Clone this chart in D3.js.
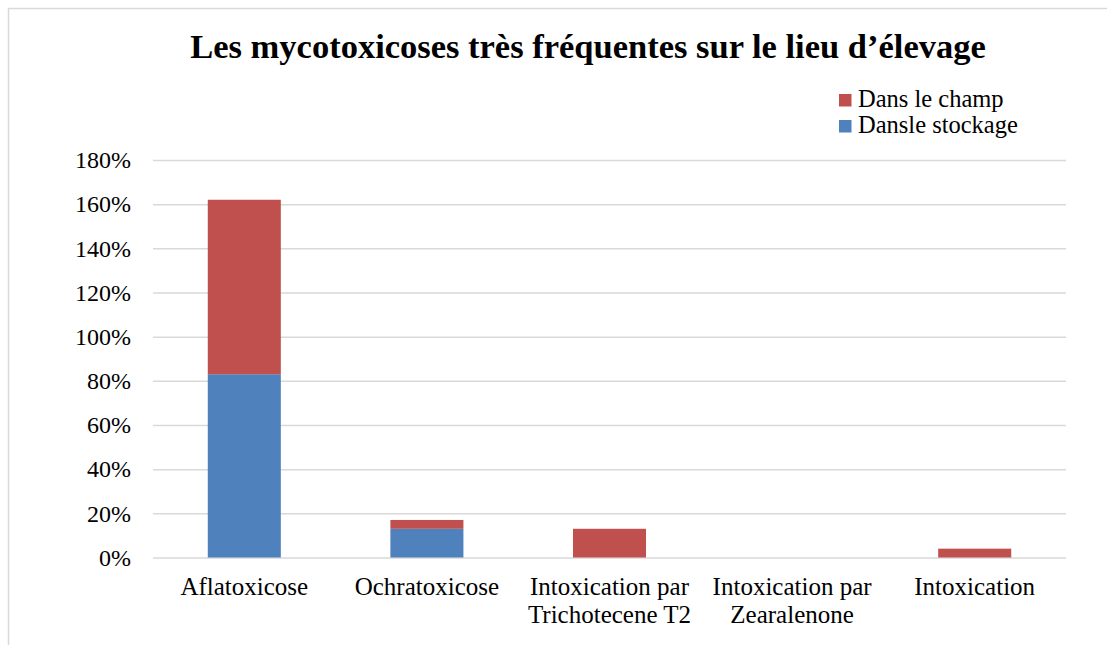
<!DOCTYPE html>
<html>
<head>
<meta charset="utf-8">
<script src="https://cdn.jsdelivr.net/npm/d3@7"></script>
<style>
  body { margin: 0; background: #fff; }
  svg text { font-family: "Liberation Serif", "DejaVu Serif", serif; fill: #000; }
</style>
</head>
<body>
<div id="chart"></div>
<script>
// chart data
const categories = ["Aflatoxicose", "Ochratoxicose", "Intoxication par\nTrichotecene T2", "Intoxication par\nZearalenone", "Intoxication"];
const stockage = [0.83, 0.13, 0, 0, 0];
const champ = [0.79, 0.04, 0.13, 0, 0.04];
const yTicks = [0, 0.2, 0.4, 0.6, 0.8, 1.0, 1.2, 1.4, 1.6, 1.8];
const seriesNames = ["Dansle stockage", "Dans le champ"];
const seriesColors = ["#4F81BD", "#C0504D"];
const title = "Les mycotoxicoses très fréquentes sur le lieu d\u2019élevage";

const W = 1107, H = 645;
const margin = { top: 160, right: 41, bottom: 87.5, left: 153 },
    width = W - margin.left - margin.right,
    height = H - margin.top - margin.bottom;

const root = d3.select("#chart")
    .append("svg")
    .attr("width", W)
    .attr("height", H);

// outer frame (runs off the right and bottom edges)
root.append("rect")
    .attr("x", 8.5).attr("y", 8.5)
    .attr("width", W + 20).attr("height", H + 20)
    .attr("fill", "#fff")
    .attr("stroke", "#D9D9D9")
    .attr("stroke-width", 1.5);

root.append("text")
    .attr("x", 588)
    .attr("y", 58)
    .attr("text-anchor", "middle")
    .attr("font-size", "34.5px")
    .attr("font-weight", "bold")
    .text(title);

const svg = root.append("g")
    .attr("transform", `translate(${margin.left},${margin.top})`);

const x = d3.scaleBand()
    .domain(categories)
    .range([0, width])
    .paddingInner(0.6)
    .paddingOuter(0.3);

const y = d3.scaleLinear()
    .domain([0, 1.8])
    .range([height, 0]);

// gridlines
svg.append("g")
    .attr("class", "grid")
    .call(d3.axisLeft(y).tickValues(yTicks).tickSize(-width).tickFormat(""))
    .call(g => g.select(".domain").remove())
    .call(g => g.selectAll("line").attr("stroke", "#D9D9D9").attr("stroke-width", 1.5));

// y labels
svg.append("g")
    .call(d3.axisLeft(y).tickValues(yTicks).tickSize(0).tickPadding(22).tickFormat(d3.format(".0%")))
    .call(g => g.select(".domain").remove())
    .call(g => g.selectAll("text").attr("font-size", "24px").attr("font-family", null));

// stacked bars
const table = categories.map((c, i) => ({ key: c, s0: stockage[i], s1: champ[i] }));
const stacked = d3.stack().keys(["s0", "s1"])(table);

svg.selectAll(".series")
    .data(stacked)
    .enter().append("g")
    .attr("fill", (d, i) => seriesColors[i])
    .selectAll("rect")
    .data(d => d.filter(v => v[1] - v[0] > 0))
    .enter().append("rect")
    .attr("x", d => x(d.data.key))
    .attr("width", x.bandwidth())
    .attr("y", d => y(d[1]))
    .attr("height", d => y(d[0]) - y(d[1]));

// x labels
const xAxis = svg.append("g")
    .attr("transform", `translate(0,${height})`)
    .call(d3.axisBottom(x).tickSize(0).tickFormat(""))
    .call(g => g.select(".domain").remove());

xAxis.selectAll(".tick").each(function (d) {
    const lines = d.split("\n");
    const t = d3.select(this).append("text")
        .attr("text-anchor", "middle")
        .attr("font-size", "25px");
    lines.forEach((l, i) => {
        t.append("tspan").attr("x", 0).attr("y", 37 + i * 28).text(l);
    });
});

// legend
const legend = root.append("g").attr("transform", "translate(839,94)");
const legendOrder = [1, 0];
legendOrder.forEach((s, i) => {
    legend.append("rect")
        .attr("x", 0).attr("y", i * 26)
        .attr("width", 12.5).attr("height", 12.5)
        .attr("fill", seriesColors[s]);
    legend.append("text")
        .attr("x", 19).attr("y", i * 26 + 13)
        .attr("font-size", "24.5px")
        .text(seriesNames[s]);
});
</script>
</body>
</html>
